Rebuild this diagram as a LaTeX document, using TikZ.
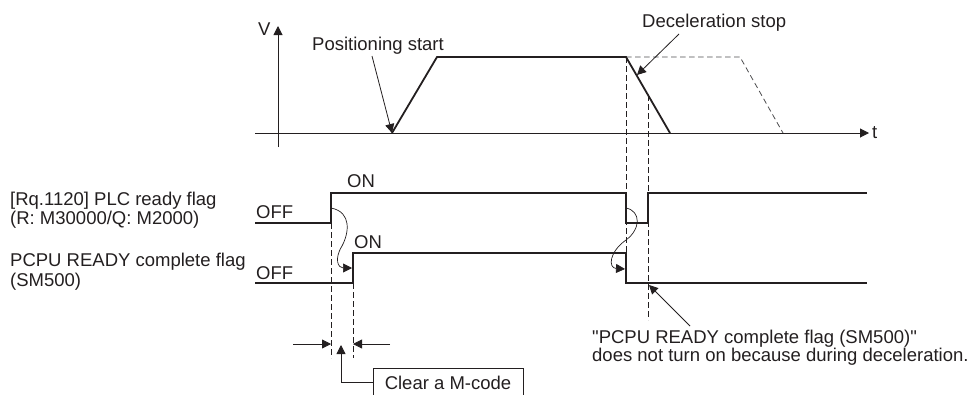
\documentclass[tikz,border=0pt]{standalone}
\usepackage{fontspec}
\setmainfont{Liberation Sans}[Ligatures=TeXOff]
\usetikzlibrary{positioning,arrows.meta}
\definecolor{ink}{HTML}{231F20}
\definecolor{dashgray}{HTML}{4D4D4F}

\begin{document}
\begin{tikzpicture}[x=1pt,y=-1pt,
  lbl/.style={inner sep=0pt,text=ink,font=\fontsize{18.5}{20}\selectfont},
  txt/.style={lbl,anchor=base west},
  sig/.style={draw=ink,line width=1.6pt},
  axis/.style={draw=ink,line width=1pt},
  guide/.style={draw=ink,line width=0.8pt,dash pattern=on 5.5pt off 3.5pt},
  tip/.style={-{Triangle[length=9pt,width=9pt]}},
  lead/.style={draw=ink,line width=0.8pt,tip}]
\clip (0,0) rectangle (970,394);
% axes
\coordinate (vbot) at (278,147);
\coordinate (vtop) at (278,26);
\coordinate (tleft) at (255,133);
\coordinate (tright) at (869,133);
\draw[axis,tip] (vbot) -- (vtop);
\draw[axis,tip] (tleft) -- (tright);
\node[txt] (vlab) at (258,35) {V};
\node[txt] (tlab) at (872,138) {t};
% speed profile
\coordinate (p0) at (392,133);
\coordinate (p1) at (437,57);
\coordinate (p2) at (626,57);
\coordinate (p3) at (670,133);
\coordinate (q2) at (740,57);
\coordinate (q3) at (783,133);
\draw[guide,draw=dashgray] (p2) -- (q2) -- (q3);
\draw[sig,line width=1.8pt] (p0) -- (p1) -- (p2) -- (p3);
% PLC ready flag
\coordinate (a0) at (255,223);
\coordinate (a1) at (331,223);
\coordinate (a2) at (331,193);
\coordinate (a3) at (626,193);
\coordinate (a4) at (626,223);
\coordinate (a5) at (648,223);
\coordinate (a6) at (648,193);
\coordinate (a7) at (867,193);
\draw[sig] (a0) -- (a1) -- (a2) -- (a3) -- (a4) -- (a5) -- (a6) -- (a7);
% PCPU READY complete flag
\coordinate (b0) at (255,283);
\coordinate (b1) at (353,283);
\coordinate (b2) at (353,253);
\coordinate (b3) at (626,253);
\coordinate (b4) at (626,283);
\coordinate (b5) at (867,283);
\draw[sig] (b0) -- (b1) -- (b2) -- (b3) -- (b4) -- (b5);
% dashed guides
\coordinate (g1) at (648,95);
\coordinate (g1e) at (648,320);
\coordinate (g2e) at (331,358);
\coordinate (g3e) at (353,358);
\draw[guide] (p2) -- (b4);
\draw[guide] (g1) -- (g1e);
\draw[guide] (a1) -- (g2e);
\draw[guide] (b1) -- (g3e);
% signal labels
\node[txt] (plc1) at (10,205) {[Rq.1120] PLC ready flag};
\node[txt] (plc2) at (10,224.5) {(R: M30000/Q: M2000)};
\node[txt] (pcpu1) at (10,266) {PCPU READY complete flag};
\node[txt] (pcpu2) at (10,286) {(SM500)};
\node[txt] (aoff) at (256,218.5) {OFF};
\node[txt] (aon) at (347,187.5) {ON};
\node[txt] (boff) at (256,279.5) {OFF};
\node[txt] (bon) at (354,248.5) {ON};
% causal arrows
\coordinate (w1s) at (331,208);
\coordinate (w1e) at (352,268);
\coordinate (w2s) at (626,208);
\coordinate (w2e) at (625,269);
\draw[lead,line width=0.7pt] (w1s) .. controls (352,212) and (349,233) .. (342,246)
  .. controls (334,259) and (338,268) .. (w1e);
\draw[lead,line width=0.7pt] (w2s) .. controls (641,211) and (641,229) .. (626,240)
  .. controls (609,252) and (608,268) .. (w2e);
% top labels
\node[txt] (pstart) at (312,50) {Positioning start};
\node[txt] (dstop) at (642,27) {Deceleration stop};
\coordinate (ps) at (372,56);
\coordinate (ds) at (679,34);
\coordinate (dt) at (637,75);
\draw[lead] (ps) -- (p0);
\draw[lead] (ds) -- (dt);
% M-code clear width
\coordinate (d1) at (293,344);
\coordinate (d2) at (390,344);
\coordinate (dm) at (341,345);
\draw[lead] (d1) -- (a1 |- d1);
\draw[lead] (d2) -- (b1 |- d2);
\node[lbl,draw=ink,line width=0.8pt,minimum width=150pt,minimum height=29pt]
  (mcode) at (448,382.5) {Clear a M-code};
\draw[lead] (mcode.west) -| (dm);
% note on deceleration
\node[txt] (note1) at (592,343.5) {"PCPU READY complete flag (SM500)"};
\node[txt] (note2) at (592,361) {does not turn on because during deceleration.};
\coordinate (ns) at (690,326);
\coordinate (nt) at (649,285);
\draw[lead] (ns) -- (nt);
\end{tikzpicture}
\end{document}
